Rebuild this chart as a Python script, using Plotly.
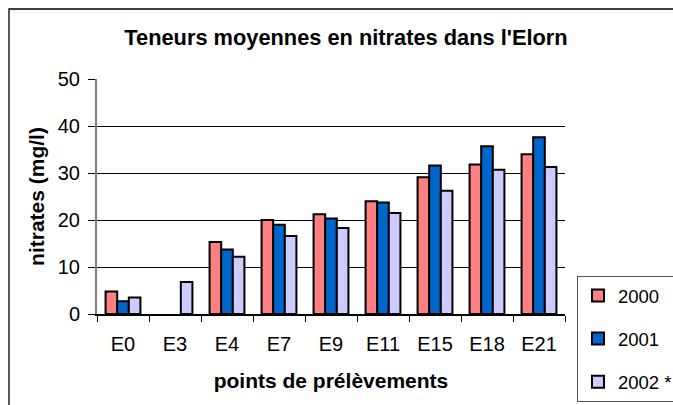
import plotly.graph_objects as go

categories = ["E0", "E3", "E4", "E7", "E9", "E11", "E15", "E18", "E21"]
v2000 = [4.8, None, 15.3, 20.0, 21.2, 24.0, 29.1, 31.8, 34.0]
v2001 = [2.7, None, 13.7, 19.0, 20.3, 23.7, 31.6, 35.7, 37.6]
v2002 = [3.5, 6.8, 12.2, 16.6, 18.3, 21.5, 26.2, 30.7, 31.3]
series_names = ["2000", "2001", "2002 *"]
colors = ["#FF8080", "#0066CC", "#CCCCFF"]
y_ticks = [0, 10, 20, 30, 40, 50]

FONT = "Liberation Sans, Arial, sans-serif"

W, H = 673, 405
ML, MR, MT, MB = 97, 108, 79, 91
PW = W - ML - MR
PH = H - MT - MB


def px_to_paper_x(px):
    return (px - ML) / PW


def px_to_paper_y(py):
    return (H - MB - py) / PH


fig = go.Figure()
for name, vals, col in zip(series_names, [v2000, v2001, v2002], colors):
    fig.add_trace(go.Bar(
        x=categories, y=vals, name=name, legendgroup=name,
        marker=dict(color=col, line=dict(color="black", width=2)),
    ))

fig.update_layout(
    width=W, height=H, autosize=False,
    margin=dict(l=ML, r=MR, t=MT, b=MB, autoexpand=False),
    paper_bgcolor="white", plot_bgcolor="white",
    barmode="group", bargap=0.33, bargroupgap=0,
    font=dict(family=FONT, color="black", size=20),
    title=dict(
        text="<b>Teneurs moyennes en nitrates dans l'Elorn</b>",
        font=dict(size=21.8, family=FONT, color="black"),
        x=px_to_paper_x(346), xref="paper", xanchor="center",
        y=1 - 37 / H, yref="container", yanchor="middle",
    ),
    xaxis=dict(
        title=dict(text="<b>points de prélèvements</b>", font=dict(size=21), standoff=20),
        showline=True, linecolor="black", linewidth=1.5,
        ticks="outside", tickson="boundaries", ticklen=6, tickcolor="black", tickwidth=1,
        tickfont=dict(size=20), ticklabelstandoff=11,
        showgrid=False, zeroline=False,
    ),
    yaxis=dict(
        title=dict(text="<b>nitrates (mg/l)</b>", font=dict(size=21), standoff=7),
        range=[0, 50], tickvals=y_ticks, ticktext=[str(t) for t in y_ticks],
        showline=True, linecolor="#808080", linewidth=2,
        ticks="outside", ticklen=7, tickcolor="black", tickwidth=1,
        tickfont=dict(size=20), ticklabelstandoff=4,
        showgrid=True, gridcolor="black", gridwidth=1, zeroline=False,
    ),
    legend=dict(
        x=px_to_paper_x(577), y=px_to_paper_y(276), xanchor="left", yanchor="top",
        xref="paper", yref="paper",
        bordercolor="#555555", borderwidth=1, bgcolor="white",
        font=dict(size=18.5, family=FONT), tracegroupgap=16,
        traceorder="grouped", itemwidth=30,
    ),
    showlegend=True,
)

# outer chart border (extends beyond the visible window, like the reference)
fig.add_shape(type="rect", xref="paper", yref="paper",
              x0=px_to_paper_x(9), x1=1.6, y0=-0.6, y1=px_to_paper_y(9),
              line=dict(color="black", width=1.3), fillcolor="rgba(0,0,0,0)",
              layer="below")

fig.write_html(
    "out.html",
    config={"displayModeBar": False},
    post_script="document.body.style.margin='0';document.body.style.overflow='hidden';",
)
